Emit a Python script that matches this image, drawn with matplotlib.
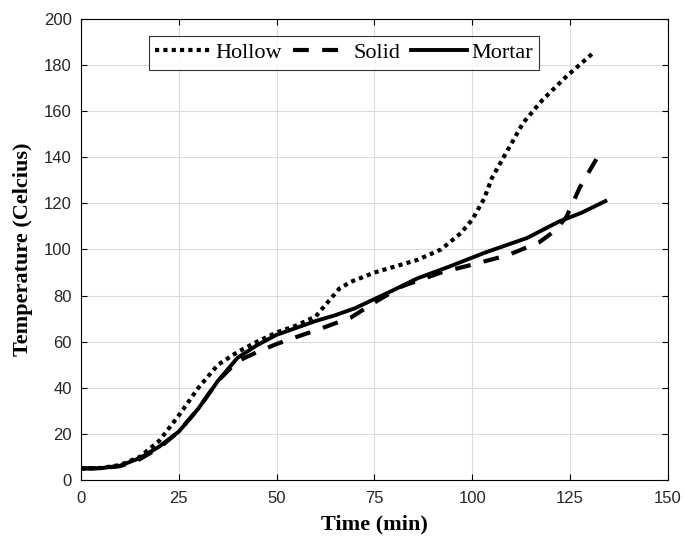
import matplotlib

matplotlib.use("Agg")
import matplotlib.pyplot as plt

# readings from the reference chart (time in min, temperature in Celcius)
hollow_t = [0, 5, 10, 15, 20, 25, 30, 35, 40, 45, 50, 55, 60, 63, 66, 69, 75,
            80, 86, 92, 97, 100, 103, 105, 109, 113, 118, 124, 130.7]
hollow_y = [5, 5.2, 6.5, 10, 17, 28, 40, 50, 55.5, 60, 64, 67, 71, 77, 83, 86,
            90, 92.5, 95.5, 100, 107, 113, 122, 131, 143, 155, 165, 175, 185]

solid_t = [0, 5, 10, 15, 20, 25, 30, 35, 40, 45, 50, 55, 61, 69, 75, 82, 92,
           99, 109, 117, 121, 124, 127.5, 133]
solid_y = [5, 5.1, 6, 9, 14, 21, 31, 43, 51.5, 55.5, 59, 62, 65.5, 70.5, 77,
           84, 90, 93, 97.5, 103, 108, 114, 127, 143]

mortar_t = [0, 5, 10, 15, 20, 25, 30, 35, 40, 45, 50, 55, 60, 65, 70, 75, 80,
            86, 94, 103, 114, 122, 128, 134]
mortar_y = [5, 5.1, 6.2, 9.5, 14.5, 21, 31, 43, 53, 58.5, 63, 66, 69, 71.5,
            74.5, 78.5, 82.5, 87.5, 92.5, 98.5, 105, 112, 116, 121]

x_ticks = [0, 25, 50, 75, 100, 125, 150]
y_ticks = [0, 20, 40, 60, 80, 100, 120, 140, 160, 180, 200]

tick_font = ["Liberation Sans Narrow", "Liberation Sans"]
label_font = ["Liberation Serif"]

fig = plt.figure(figsize=(6.84, 5.42), dpi=100)
ax = fig.add_axes([0.1184, 0.1144, 0.8582, 0.8506])

ax.plot(hollow_t, hollow_y, color="black", lw=3, linestyle=(0, (1, 1)),
        dash_capstyle="butt", label="Hollow")
ax.plot(solid_t, solid_y, color="black", lw=3, linestyle=(0, (3.8, 3.2)),
        label="Solid")
ax.plot(mortar_t, mortar_y, color="black", lw=2.8, label="Mortar")

ax.set_xlim(0, 150)
ax.set_ylim(0, 200)
ax.set_xticks(x_ticks)
ax.set_yticks(y_ticks)
ax.grid(True, color="#dcdcdc", lw=0.8)
ax.set_axisbelow(True)
ax.tick_params(direction="in", top=True, right=True, length=4, width=0.8,
               labelsize=12, colors="black")
ax.tick_params(axis="x", pad=8)
ax.tick_params(axis="y", pad=6.5)
for lbl in ax.get_xticklabels() + ax.get_yticklabels():
    lbl.set_family(tick_font)
    lbl.set_color("#262626")
for sp in ax.spines.values():
    sp.set_linewidth(0.8)

ax.set_xlabel("Time (min)", family=label_font, fontsize=16, fontweight="bold",
              labelpad=6)
ax.set_ylabel("Temperature (Celcius)", family=label_font, fontsize=16,
              fontweight="bold", labelpad=8)

leg = ax.legend(loc="upper center", bbox_to_anchor=(0.448, 0.963), ncol=3,
                frameon=True, fancybox=False, edgecolor="black",
                handlelength=2.5, handletextpad=0.2, columnspacing=0.5,
                borderpad=0.3, borderaxespad=0,
                prop={"family": label_font, "size": 16})
leg.get_frame().set_linewidth(0.8)

fig.savefig("out.png", dpi=100)
